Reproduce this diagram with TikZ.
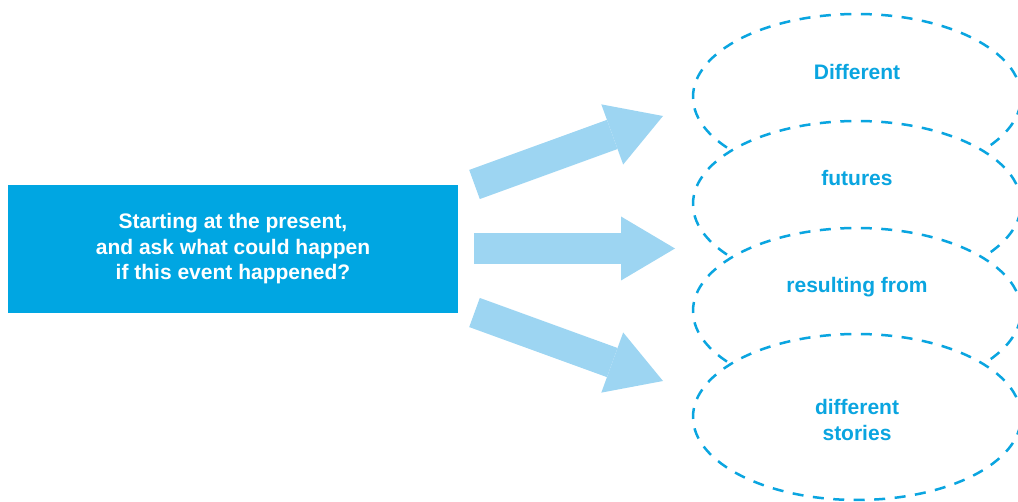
\documentclass[tikz,border=0pt]{standalone}
\usepackage{fontspec}
\setmainfont{Liberation Sans}
\usetikzlibrary{shapes.geometric,arrows.meta}
\definecolor{boxblue}{HTML}{00A6E2}
\definecolor{lineblue}{HTML}{0AA5E0}
\definecolor{arrowblue}{HTML}{9DD5F2}
\tikzset{
  mainbox/.style={fill=boxblue, draw=none, minimum width=450pt, minimum height=128pt, inner sep=0pt,
    text=white, font=\fontsize{21}{25.5}\selectfont\bfseries, align=center},
  oval/.style={ellipse, draw=lineblue, fill=white, line width=2.5pt, dash pattern=on 11pt off 9.5pt,
    minimum width=328pt, minimum height=166pt, inner sep=0pt},
  ovaltext/.style={text=lineblue, font=\fontsize{21}{25.5}\selectfont\bfseries, align=center, inner sep=0pt},
  blockarrow/.style={draw=arrowblue, line width=31pt,
    -{Triangle[length=54pt, width=64pt, line width=0pt, fill=arrowblue]}}
}
\begin{document}
\begin{tikzpicture}[x=1pt,y=-1pt]
\useasboundingbox (0,0) rectangle (1018,502);
% main box
\node[mainbox] (box) at (233,249) {Starting at the present,\\and ask what could happen\\if this event happened?};
% ellipses (drawn top to bottom so each covers the one above)
\node[oval] (e1) at (857,97) {};
\node[oval] (e2) at (857,204) {};
\node[oval] (e3) at (857,311) {};
\node[oval] (e4) at (857,417) {};
\node[ovaltext] (t1) at (857,72) {Different};
\node[ovaltext] (t2) at (857,178) {futures};
\node[ovaltext] (t3) at (857,287) {resulting from};
\node[ovaltext] (t4) at (857,420) {different\\stories};
% arrows
\coordinate (a1s) at (474.5,184.5);
\coordinate (a1e) at (663,116);
\coordinate (a2s) at (474,248.5);
\coordinate (a2e) at (675,248.5);
\coordinate (a3s) at (474.5,312.5);
\coordinate (a3e) at (663,381);
\draw[blockarrow] (a1s) -- (a1e);
\draw[blockarrow] (a2s) -- (a2e);
\draw[blockarrow] (a3s) -- (a3e);
\end{tikzpicture}
\end{document}
